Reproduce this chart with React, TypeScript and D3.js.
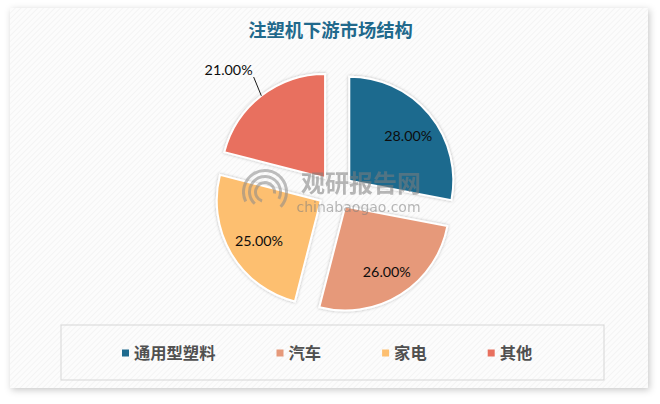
import React from "react";
import * as d3 from "d3";

const categories = ["通用型塑料", "汽车", "家电", "其他"];
const values = [28, 26, 25, 21];
const valueLabels = ["28.00%", "26.00%", "25.00%", "21.00%"];
const colors = ["#1e6a8e", "#e6997a", "#fdbf70", "#e8705e"];
const title = "注塑机下游市场结构";

const W = 660;
const H = 404;
const cx = 335.8;
const cy = 191.8;
const R = 104;
const explode = 17.5;
const labelR = 74;

export default function App() {
  const pie = d3.pie<number>().sort(null).startAngle(0).endAngle(2 * Math.PI)(values);
  const arc = d3.arc<d3.PieArcDatum<number>>().innerRadius(0).outerRadius(R);

  const dir = (a: number) => [Math.sin(a), -Math.cos(a)];

  // legend layout
  const legendFont = 16.3;
  const sq = 7;
  const sqGap = 5;
  const itemGap = 61;
  let lx = 122;
  const legendItems = categories.map((c, i) => {
    const item = { x: lx, name: c, color: colors[i] };
    lx += sq + sqGap + c.length * legendFont + itemGap;
    return item;
  });

  const swirl = d3.arc<any>();

  return (
    <svg
      width={W}
      height={H}
      style={{ position: "absolute", left: 0, top: 0, background: "#ffffff" }}
    >
      <defs>
        <pattern id="diag" width="4" height="4" patternUnits="userSpaceOnUse" patternTransform="rotate(45)">
          <rect width="4" height="4" fill="#fcfcfc" />
          <line x1="0" y1="0" x2="0" y2="4" stroke="#f0f0f0" strokeWidth="1.2" />
        </pattern>
        <filter id="panelShadow" x="-5%" y="-5%" width="110%" height="115%">
          <feDropShadow dx="1.5" dy="2" stdDeviation="3.5" floodColor="#000" floodOpacity="0.22" />
        </filter>
        <filter id="sliceShadow" x="-20%" y="-20%" width="140%" height="140%">
          <feDropShadow dx="0" dy="0" stdDeviation="1.6" floodColor="#000" floodOpacity="0.28" />
        </filter>
      </defs>

      <rect x={10} y={8} width={638} height={380} fill="url(#diag)" filter="url(#panelShadow)" />

      <text
        x={330.5}
        y={37}
        textAnchor="middle"
        fontFamily="'Noto Sans CJK SC', sans-serif"
        fontWeight="bold"
        fontSize={18.3}
        fill="#21698c"
      >
        {title}
      </text>

      <g>
        {pie.map((p, i) => {
          const mid = (p.startAngle + p.endAngle) / 2;
          const [dx, dy] = dir(mid);
          return (
            <path
              key={i}
              d={arc(p) || ""}
              transform={`translate(${cx + dx * explode},${cy + dy * explode})`}
              fill={colors[i]}
              stroke="#ffffff"
              strokeWidth={2}
              strokeLinejoin="miter"
              filter="url(#sliceShadow)"
            />
          );
        })}
      </g>

      <g fontFamily="Lato, 'Open Sans', sans-serif" fontSize={14.3} fill="#0d0d0d">
        {pie.map((p, i) => {
          const mid = (p.startAngle + p.endAngle) / 2;
          const [dx, dy] = dir(mid);
          const tx = cx + dx * explode;
          const ty = cy + dy * explode;
          if (i === 3) {
            const ox = tx + dx * R;
            const oy = ty + dy * R;
            const ex = ox - 7.7;
            const ey = oy - 18.8;
            return (
              <g key={i}>
                <line x1={ox} y1={oy} x2={ex} y2={ey} stroke="#1a1a1a" strokeWidth={1} />
                <text x={ex - 1} y={ey - 1.5} textAnchor="end">
                  {valueLabels[i]}
                </text>
              </g>
            );
          }
          return (
            <text
              key={i}
              x={tx + dx * labelR + 2}
              y={ty + dy * labelR + 2}
              textAnchor="middle"
              dominantBaseline="central"
            >
              {valueLabels[i]}
            </text>
          );
        })}
      </g>

      {/* watermark */}
      <g opacity={0.55}>
        {[0, 1, 2].map((k) => (
          <path
            key={k}
            d={
              swirl({
                innerRadius: 8 + k * 6,
                outerRadius: 11 + k * 6,
                startAngle: -Math.PI * 0.9 + k * 0.4,
                endAngle: Math.PI * 0.55 + k * 0.3,
              }) || ""
            }
            transform="translate(265,192)"
            fill="#8a8a8a"
          />
        ))}
        <text
          x={361}
          y={192}
          textAnchor="middle"
          fontFamily="'Noto Sans CJK SC', sans-serif"
          fontWeight="bold"
          fontSize={24}
          fill="#7d7d7d"
        >
          观研报告网
        </text>
        <text
          x={358.5}
          y={212}
          textAnchor="middle"
          fontFamily="'DejaVu Sans', sans-serif"
          fontSize={14}
          fill="#7d7d7d"
        >
          chinabaogao.com
        </text>
      </g>

      <rect x={61} y={325} width={543} height={55} fill="none" stroke="#d6d6d6" strokeWidth={1} />
      <g fontFamily="'Noto Sans CJK SC', sans-serif" fontSize={legendFont} fontWeight="bold" fill="#505050">
        {legendItems.map((it, i) => (
          <g key={i}>
            <rect x={it.x} y={349.5} width={sq} height={sq} fill={it.color} />
            <text x={it.x + sq + sqGap} y={358.5}>
              {it.name}
            </text>
          </g>
        ))}
      </g>
    </svg>
  );
}
